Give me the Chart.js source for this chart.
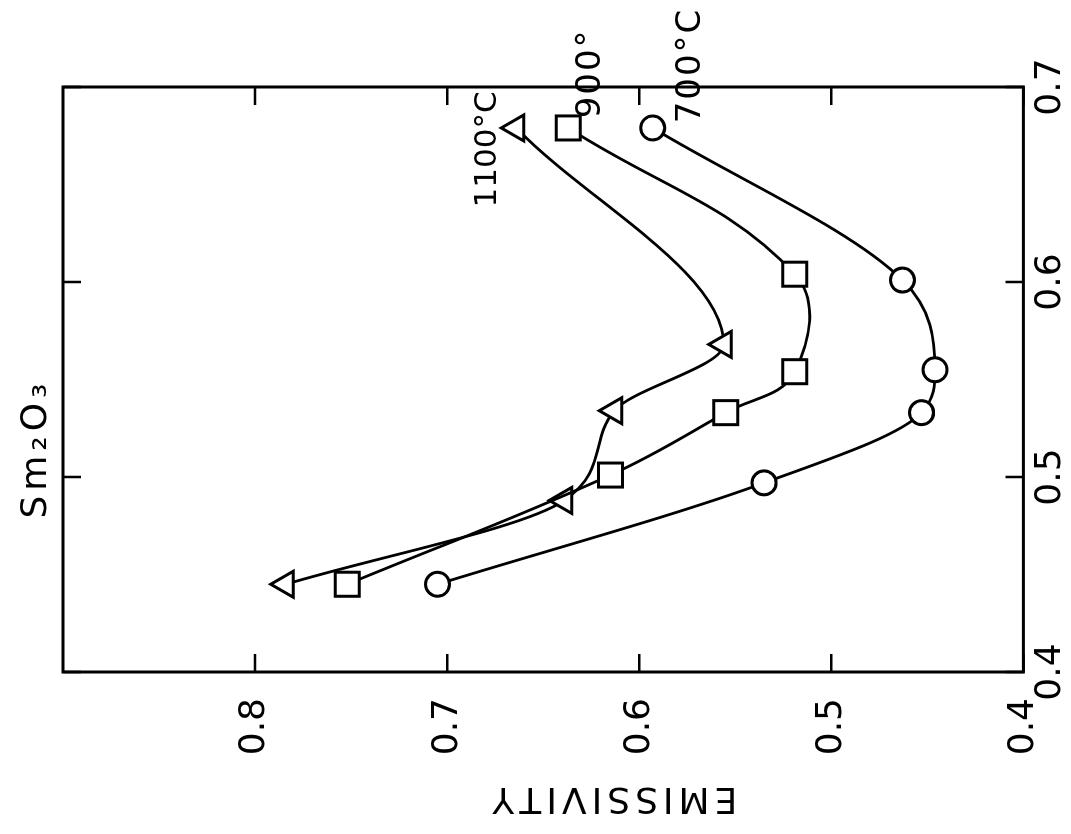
<!DOCTYPE html>
<html>
<head>
<meta charset="utf-8">
<script src="https://cdn.jsdelivr.net/npm/chart.js@4.4.0/dist/chart.umd.min.js"></script>
<style>
  body { margin: 0; background: #fff; overflow: hidden; }
  .page { position: relative; width: 1071px; height: 834px; }
  /* the figure is printed a quarter turn to the left, so draw it upright and turn it */
  .turn {
    position: absolute; left: 0; top: 0;
    width: 834px; height: 1071px;
    transform-origin: 0 0;
    transform: translate(0, 834px) rotate(-90deg);
  }
</style>
</head>
<body>
<div class="page">
  <div class="turn"><canvas id="chart" width="834" height="1071"></canvas></div>
</div>
<script>
// wavelength (micron) and emissivity
let wl700 = [0.445, 0.497, 0.533, 0.555, 0.601, 0.679];
let em700 = [0.705, 0.535, 0.453, 0.446, 0.463, 0.593];

let wl900 = [0.445, 0.501, 0.533, 0.554, 0.604, 0.679];
let em900 = [0.752, 0.615, 0.555, 0.519, 0.519, 0.637];

let wl1100 = [0.445, 0.488, 0.534, 0.568, 0.679];
let em1100 = [0.784, 0.639, 0.613, 0.556, 0.664];

let seriesNames = ["700°C", "900°", "1100°C"];
let wlTicks = [0.4, 0.5, 0.6, 0.7];
let emTicks = [0.4, 0.5, 0.6, 0.7, 0.8];

let toPoints = (xs, ys) => xs.map((v, i) => ({ x: v, y: ys[i] }));

let font = '"DejaVu Sans", sans-serif';

//box, inward tick marks on all four sides
let frame = {
  id: "frame",
  beforeDatasetsDraw(chart) {
    let { ctx, chartArea: a, scales } = chart;
    let len = 18;
    ctx.save();
    ctx.strokeStyle = "#000";
    ctx.lineWidth = 3;
    ctx.strokeRect(a.left, a.top, a.width, a.height);
    ctx.lineWidth = 2.5;
    ctx.beginPath();
    wlTicks.forEach((t) => {
      let px = scales.x.getPixelForValue(t);
      ctx.moveTo(px, a.bottom);
      ctx.lineTo(px, a.bottom - len);
      ctx.moveTo(px, a.top);
      ctx.lineTo(px, a.top + len);
    });
    emTicks.forEach((t) => {
      let py = scales.y.getPixelForValue(t);
      ctx.moveTo(a.left, py);
      ctx.lineTo(a.left + len, py);
      ctx.moveTo(a.right, py);
      ctx.lineTo(a.right - len, py);
    });
    ctx.stroke();
    ctx.restore();
  },
};

//title, axis name and the temperature notes
let notes = {
  id: "notes",
  afterDraw(chart) {
    let { ctx, chartArea: a, scales } = chart;
    ctx.save();
    ctx.fillStyle = "#000";
    ctx.textAlign = "center";
    ctx.textBaseline = "middle";
    ctx.font = "36px " + font;
    ctx.letterSpacing = "5px";

    ctx.fillText("Sm₂O₃", a.left + a.width * 0.382, a.top - 26);

    ctx.save();
    ctx.translate(37, a.top + a.height * 0.572);
    ctx.rotate(-Math.PI / 2);
    ctx.fillText("EMISSIVITY", 0, 0);
    ctx.restore();

    let spots = [
      [0.711, 0.573, 34, 2],
      [0.707, 0.625, 34, 2],
      [0.668, 0.679, 31, 0],
    ];
    seriesNames.forEach((name, i) => {
      let [wl, em, size, gap] = spots[i];
      ctx.font = size + "px " + font;
      ctx.letterSpacing = gap + "px";
      ctx.fillText(name, scales.x.getPixelForValue(wl), scales.y.getPixelForValue(em));
    });
    ctx.restore();
  },
};

let lineStyle = {
  showLine: true,
  borderColor: "#000",
  borderWidth: 2.8,
  pointBorderColor: "#000",
  pointBackgroundColor: "#fff",
  pointBorderWidth: 3,
  cubicInterpolationMode: "monotone",
  clip: false,
};

let myChart = new Chart(document.getElementById("chart"), {
  type: "scatter",
  data: {
    datasets: [
      { ...lineStyle, label: seriesNames[0], data: toPoints(wl700, em700), pointStyle: "circle", pointRadius: 12 },
      //this one bows a little between its two lowest points
      { ...lineStyle, label: seriesNames[1], data: toPoints(wl900, em900), pointStyle: "rect", pointRadius: 17,
        cubicInterpolationMode: "default", tension: 0.4 },
      { ...lineStyle, label: seriesNames[2], data: toPoints(wl1100, em1100), pointStyle: "triangle", pointRadius: 15 },
    ],
  },
  plugins: [frame, notes],
  options: {
    responsive: false,
    animation: false,
    layout: { padding: { top: 63, right: 87, left: 0, bottom: 0 } },
    plugins: {
      legend: { display: false },
      tooltip: { enabled: false },
    },
    scales: {
      x: {
        type: "linear",
        min: 0.4,
        max: 0.7,
        afterFit: (s) => { s.height = 44; },
        afterBuildTicks: (s) => { s.ticks = wlTicks.map((v) => ({ value: v })); },
        grid: { display: false, drawTicks: false },
        border: { display: false },
        ticks: {
          autoSkip: false,
          maxRotation: 0,
          padding: 6,
          color: "#000",
          font: { family: font, size: 36 },
          callback: (v) => v.toFixed(1),
        },
      },
      y: {
        min: 0.4,
        max: 0.9,
        afterFit: (s) => { s.width = 162; },
        afterBuildTicks: (s) => { s.ticks = emTicks.map((v) => ({ value: v })); },
        grid: { display: false, drawTicks: false },
        border: { display: false },
        ticks: {
          autoSkip: false,
          padding: 26,
          color: "#000",
          font: { family: font, size: 36 },
          callback: (v) => v.toFixed(1),
        },
      },
    },
  },
});
</script>
</body>
</html>
